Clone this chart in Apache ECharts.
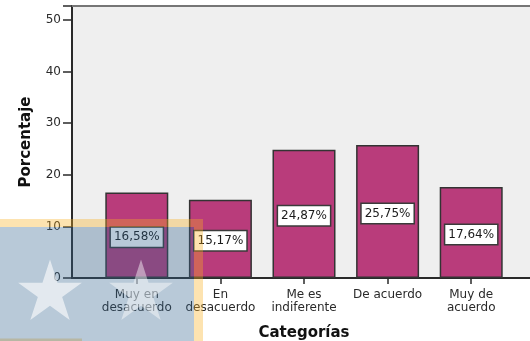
<!DOCTYPE html>
<html>
<head>
<meta charset="utf-8">
<script src="https://cdn.jsdelivr.net/npm/echarts@6/dist/echarts.min.js"></script>
<style>html,body{margin:0;padding:0;background:#fff;}#c{width:530px;height:341px;}</style>
</head>
<body>
<div id="c"></div>
<script>
const categories = ['Muy en\ndesacuerdo', 'En\ndesacuerdo', 'Me es\nindiferente', 'De acuerdo', 'Muy de\nacuerdo'];
const values = [16.58, 15.17, 24.87, 25.75, 17.64];
const yTicks = [0, 10, 20, 30, 40, 50];
const yMax = 52.7;

const FONT = 'DejaVu Sans';
const chart = echarts.init(document.getElementById('c'), null, {renderer: 'canvas'});

function star(cx, cy, R) {
  const pts = [];
  const r = R * 0.382;
  for (let i = 0; i < 10; i++) {
    const ang = -Math.PI / 2 + i * Math.PI / 5;
    const rad = i % 2 === 0 ? R : r;
    pts.push([cx + rad * Math.cos(ang), cy + rad * Math.sin(ang)]);
  }
  return pts;
}

const option = {
  animation: false,
  backgroundColor: '#ffffff',
  grid: [
    {left: 72, top: 6, width: 464, height: 272, show: true, backgroundColor: '#efefef', borderWidth: 0, containLabel: false, outerBoundsMode: 'none'},
    {left: 95, top: 6, width: 418, height: 272, containLabel: false, outerBoundsMode: 'none'}
  ],
  xAxis: [
    {gridIndex: 0, type: 'value', min: 0, max: 1, position: 'bottom',
     axisLine: {show: true, onZero: false, lineStyle: {color: '#2a2a2a', width: 2}},
     axisTick: {show: false}, axisLabel: {show: false}, splitLine: {show: false}},
    {gridIndex: 0, type: 'value', min: 0, max: 1, position: 'top',
     axisLine: {show: true, onZero: false, lineStyle: {color: '#767676', width: 2}},
     axisTick: {show: false}, axisLabel: {show: false}, splitLine: {show: false}},
    {gridIndex: 1, type: 'category', data: categories, boundaryGap: true,
     axisLine: {show: false},
     axisTick: {show: true, alignWithLabel: true, length: 6, lineStyle: {color: '#2a2a2a', width: 1.5}},
     axisLabel: {show: true, margin: 10, color: '#2a2a2a', fontFamily: FONT, fontSize: 12, lineHeight: 13, interval: 0},
     name: 'Categorías', nameLocation: 'middle', nameGap: 47.5,
     nameTextStyle: {fontFamily: FONT, fontSize: 15, fontWeight: 'bold', color: '#111'}}
  ],
  yAxis: [
    {gridIndex: 0, type: 'value', min: 0, max: yMax, interval: 10,
     axisLine: {show: true, lineStyle: {color: '#2a2a2a', width: 2}},
     axisTick: {show: true, length: 9, lineStyle: {color: '#2a2a2a', width: 1.5}},
     axisLabel: {show: true, margin: 11, color: '#2a2a2a', fontFamily: FONT, fontSize: 12,
       formatter: v => (yTicks.indexOf(v) >= 0 ? String(v) : '')},
     splitLine: {show: false},
     name: 'Porcentaje', nameLocation: 'middle', nameGap: 38,
     nameTextStyle: {fontFamily: FONT, fontSize: 15, fontWeight: 'bold', color: '#111'}},
    {gridIndex: 1, type: 'value', min: 0, max: yMax, interval: 10, show: false}
  ],
  series: [{
    type: 'bar', xAxisIndex: 2, yAxisIndex: 1, data: values, barWidth: 63,
    itemStyle: {color: '#b93c7b', borderColor: '#333', borderWidth: 1.5},
    label: {show: true, position: 'inside', offset: [0, 2],
      formatter: p => p.value.toFixed(2).replace('.', ',') + '%',
      fontFamily: FONT, fontSize: 12, color: '#1a1a1a', backgroundColor: '#ffffff',
      borderColor: '#3a3a3a', borderWidth: 1.5, padding: [3, 3, 2, 3], lineHeight: 14}
  }],
  graphic: [
    {type: 'rect', z: 100, shape: {x: 0, y: 219, width: 203, height: 8}, style: {fill: 'rgba(249,175,29,0.35)'}},
    {type: 'rect', z: 100, shape: {x: 194, y: 227, width: 9, height: 114}, style: {fill: 'rgba(249,175,29,0.35)'}},
    {type: 'rect', z: 100, shape: {x: 0, y: 338.5, width: 82, height: 3}, style: {fill: 'rgba(249,175,29,0.35)'}},
    {type: 'rect', z: 100, shape: {x: 0, y: 227, width: 194, height: 114}, style: {fill: 'rgba(52,101,144,0.35)'}},
    {type: 'polygon', z: 101, shape: {points: star(50, 293, 33.5)}, style: {fill: 'rgba(255,255,255,0.6)'}},
    {type: 'polygon', z: 101, shape: {points: star(141, 293, 33.5)}, style: {fill: 'rgba(255,255,255,0.45)'}}
  ]
};
chart.setOption(option);
</script>
</body>
</html>
